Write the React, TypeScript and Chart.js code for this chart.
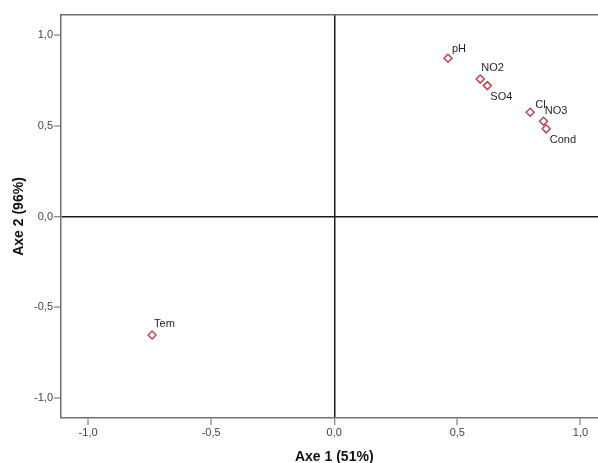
import React, { useEffect, useRef } from "react";
import { Chart, registerables } from "chart.js";

Chart.register(...registerables);

// ---- data ----
const variables = ["pH", "NO2", "SO4", "Cl", "NO3", "Cond", "Tem"];
const axe1 = [0.462, 0.593, 0.622, 0.796, 0.85, 0.861, -0.74];
const axe2 = [0.872, 0.757, 0.721, 0.574, 0.525, 0.483, -0.653];
const tickValues = [-1, -0.5, 0, 0.5, 1];
const axisMin = -1.11;
const axisMax = 1.11;
const xTitle = "Axe 1 (51%)";
const yTitle = "Axe 2 (96%)";

// label placement (style): [dx, dy to baseline] relative to marker
const labelOffsets: [number, number][] = [
  [4, -6],
  [1, -7.6],
  [3, 14],
  [5, -4.4],
  [1.3, -6.7],
  [3.6, 14.4],
  [2, -8],
];

const FONT = "'Liberation Sans', Arial, Helvetica, sans-serif";
const fmt = (v: number | string) => Number(v).toFixed(1).replace(".", ",");

const pointLabels = {
  id: "pointLabels",
  afterDatasetsDraw(chart: any) {
    const meta = chart.getDatasetMeta(0);
    const ctx = chart.ctx;
    ctx.save();
    ctx.font = `11px ${FONT}`;
    ctx.fillStyle = "#1e1e1e";
    ctx.textAlign = "left";
    ctx.textBaseline = "alphabetic";
    meta.data.forEach((el: any, i: number) => {
      const [dx, dy] = labelOffsets[i];
      ctx.fillText(variables[i], el.x + dx, el.y + dy);
    });
    ctx.restore();
  },
};

const setTicks = (s: any) => {
  s.ticks = tickValues.map((v) => ({ value: v }));
};

const gridColor = (c: any) => (c.tick && c.tick.value === 0 ? "#1c1c1c" : "rgba(0,0,0,0)");
const gridWidth = (c: any) => (c.tick && c.tick.value === 0 ? 1.5 : 0);

export default function App() {
  const ref = useRef<HTMLCanvasElement | null>(null);
  useEffect(() => {
    document.body.style.margin = "0";
    if (!ref.current) return;
    Chart.defaults.font.family = FONT;
    const chart = new Chart(ref.current, {
      type: "scatter",
      data: {
        datasets: [
          {
            data: axe1.map((x, i) => ({ x, y: axe2[i] })),
            pointStyle: "rectRot",
            radius: 4,
            borderWidth: 1.5,
            borderColor: "#c8414b",
            backgroundColor: "#ffffff",
          },
        ],
      },
      options: {
        animation: false,
        responsive: false,
        maintainAspectRatio: false,
        layout: { padding: { top: 15, left: 0, right: 0, bottom: 0 } },
        plugins: { legend: { display: false }, tooltip: { enabled: false } },
        scales: {
          x: {
            type: "linear",
            position: "bottom",
            min: axisMin,
            max: axisMax,
            afterBuildTicks: setTicks,
            afterFit: (s: any) => {
              s.height = 45;
              s.paddingLeft = 0;
              s.paddingRight = 0;
            },
            ticks: { callback: fmt, font: { size: 11 }, color: "#444", padding: 1, maxRotation: 0, autoSkip: false },
            grid: { drawOnChartArea: true, color: gridColor, lineWidth: gridWidth, tickColor: "#666", tickLength: 7, tickWidth: 1 },
            border: { display: true, color: "#707070", width: 1.5 },
            title: { display: true, text: xTitle, font: { size: 14, weight: "bold" }, color: "#111", padding: { top: 0, bottom: -3 } },
          },
          x2: {
            type: "linear",
            position: "top",
            min: axisMin,
            max: axisMax,
            afterFit: (s: any) => {
              s.height = 0;
              s.paddingLeft = 0;
              s.paddingRight = 0;
            },
            ticks: { display: false },
            grid: { display: false, drawTicks: false },
            border: { display: true, color: "#707070", width: 1.5 },
          },
          y: {
            type: "linear",
            position: "left",
            min: axisMin,
            max: axisMax,
            afterBuildTicks: setTicks,
            afterFit: (s: any) => {
              s.width = 61;
              s.paddingTop = 0;
              s.paddingBottom = 0;
            },
            ticks: { callback: fmt, font: { size: 11 }, color: "#444", padding: 1, autoSkip: false },
            grid: { drawOnChartArea: true, color: gridColor, lineWidth: gridWidth, tickColor: "#666", tickLength: 7, tickWidth: 1 },
            border: { display: true, color: "#707070", width: 1.5 },
            title: { display: true, text: yTitle, font: { size: 14, weight: "bold" }, color: "#111", padding: { top: 11, bottom: 0 } },
          },
        },
      } as any,
      plugins: [pointLabels],
    });
    return () => chart.destroy();
  }, []);
  return (
    <div style={{ position: "fixed", left: 0, top: 0, width: 598, height: 463, overflow: "hidden", background: "#fff" }}>
      <canvas ref={ref} width={613} height={463} style={{ display: "block" }} />
    </div>
  );
}
